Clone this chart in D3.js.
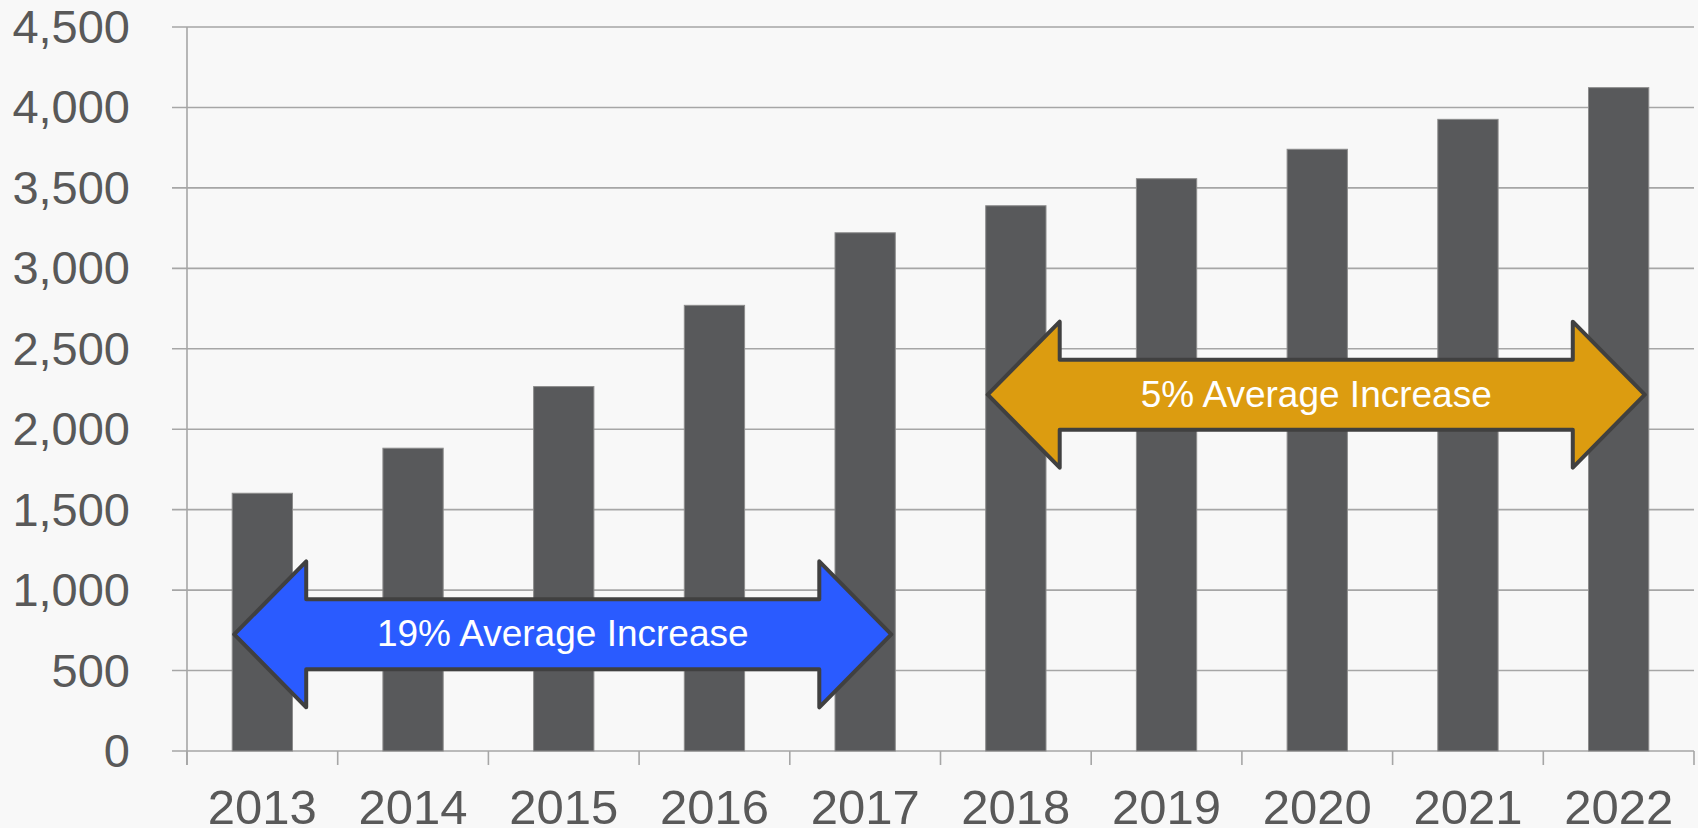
<!DOCTYPE html>
<html>
<head>
<meta charset="utf-8">
<script src="https://cdn.jsdelivr.net/npm/d3@7"></script>
<style>
  html, body { margin: 0; padding: 0; background: #f8f8f8; }
  svg { display: block; font-family: "Liberation Sans", Arial, sans-serif; }
</style>
</head>
<body>
<div id="chart"></div>
<script>
// data
var years = ["2013", "2014", "2015", "2016", "2017", "2018", "2019", "2020", "2021", "2022"];
var totals = [1602, 1882, 2265, 2770, 3221, 3389, 3557, 3740, 3926, 4123];
var yTicks = [0, 500, 1000, 1500, 2000, 2500, 3000, 3500, 4000, 4500];

// the two double arrows laid over the bars
var arrowLabels = ["19% Average Increase", "5% Average Increase"];
var arrowFrom = ["2013", "2018"];
var arrowTo = ["2017", "2022"];
var arrowMid = [725, 2215];
var arrowFill = ["#2a5bff", "#dc9c10"];

var w = 1698;
var h = 828;
var plotL = 187, plotR = 1694, plotT = 27, plotB = 751;

var svg = d3.select("#chart")
            .append("svg")
            .attr("width", w)
            .attr("height", h);

svg.append("rect")
   .attr("width", w)
   .attr("height", h)
   .attr("fill", "#f8f8f8");

var x = d3.scaleBand()
          .domain(years)
          .range([plotL, plotR])
          .paddingInner(0.6)
          .paddingOuter(0.3);

var y = d3.scaleLinear()
          .domain([0, 4500])
          .range([plotB, plotT]);

var fmt = d3.format(",");

// gridlines + y labels
svg.selectAll("line.grid")
   .data(yTicks)
   .enter()
   .append("line")
   .attr("class", "grid")
   .attr("x1", plotL - 15)
   .attr("x2", plotR)
   .attr("y1", function(d) { return y(d); })
   .attr("y2", function(d) { return y(d); })
   .attr("stroke", "#a6a6a6")
   .attr("stroke-width", 1.6);

svg.selectAll("text.ylab")
   .data(yTicks)
   .enter()
   .append("text")
   .attr("class", "ylab")
   .attr("x", 130)
   .attr("y", function(d) { return y(d) + 16; })
   .attr("text-anchor", "end")
   .attr("font-size", "47px")
   .attr("fill", "#595959")
   .text(function(d) { return fmt(d); });

// y axis line
svg.append("line")
   .attr("x1", plotL)
   .attr("x2", plotL)
   .attr("y1", plotT)
   .attr("y2", plotB + 14)
   .attr("stroke", "#a6a6a6")
   .attr("stroke-width", 1.6);

// x tick marks at category boundaries
var step = x.step();
var bounds = years.map(function(d) { return x(d) - step * 0.3; });
bounds.push(plotR);

svg.selectAll("line.xtick")
   .data(bounds)
   .enter()
   .append("line")
   .attr("class", "xtick")
   .attr("x1", function(d) { return d; })
   .attr("x2", function(d) { return d; })
   .attr("y1", plotB)
   .attr("y2", plotB + 14)
   .attr("stroke", "#a6a6a6")
   .attr("stroke-width", 1.6);

// bars
svg.selectAll("rect.bar")
   .data(totals)
   .enter()
   .append("rect")
   .attr("class", "bar")
   .attr("x", function(d, i) { return x(years[i]); })
   .attr("y", function(d) { return y(d); })
   .attr("width", x.bandwidth())
   .attr("height", function(d) { return y(0) - y(d); })
   .attr("fill", "#58595b")
   .attr("stroke", "#8c8c8c")
   .attr("stroke-width", 1);

// x labels
svg.selectAll("text.xlab")
   .data(years)
   .enter()
   .append("text")
   .attr("class", "xlab")
   .attr("x", function(d) { return x(d) + x.bandwidth() / 2; })
   .attr("y", 824)
   .attr("text-anchor", "middle")
   .attr("font-size", "49px")
   .attr("fill", "#595959")
   .text(function(d) { return d; });

// double arrows
var headLen = 72, headHalf = 73, shaftHalf = 35;

function arrowPath(x0, x1, cy) {
  return "M" + x0 + "," + cy +
         "L" + (x0 + headLen) + "," + (cy - headHalf) +
         "L" + (x0 + headLen) + "," + (cy - shaftHalf) +
         "L" + (x1 - headLen) + "," + (cy - shaftHalf) +
         "L" + (x1 - headLen) + "," + (cy - headHalf) +
         "L" + x1 + "," + cy +
         "L" + (x1 - headLen) + "," + (cy + headHalf) +
         "L" + (x1 - headLen) + "," + (cy + shaftHalf) +
         "L" + (x0 + headLen) + "," + (cy + shaftHalf) +
         "L" + (x0 + headLen) + "," + (cy + headHalf) + "Z";
}

arrowLabels.forEach(function(lab, i) {
  var x0 = x(arrowFrom[i]) + 2;
  var x1 = x(arrowTo[i]) + x.bandwidth() - 4;
  var cy = y(arrowMid[i]);

  svg.append("path")
     .attr("d", arrowPath(x0, x1, cy))
     .attr("fill", arrowFill[i])
     .attr("stroke", "#404040")
     .attr("stroke-width", 4)
     .attr("stroke-linejoin", "round");

  svg.append("text")
     .attr("x", (x0 + x1) / 2)
     .attr("y", cy + 12)
     .attr("text-anchor", "middle")
     .attr("font-size", "37px")
     .attr("fill", "#ffffff")
     .text(lab);
});
</script>
</body>
</html>
